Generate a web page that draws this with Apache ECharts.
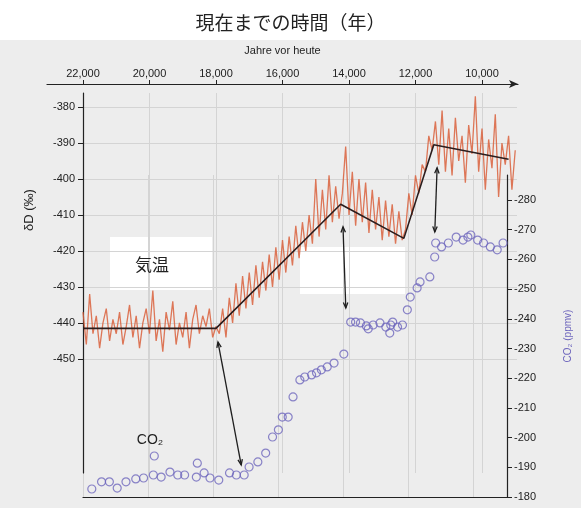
<!DOCTYPE html>
<html>
<head>
<meta charset="utf-8">
<script src="https://cdn.jsdelivr.net/npm/echarts@6/dist/echarts.min.js"></script>
<style>
  html, body { margin: 0; padding: 0; background: #ffffff; }
  #chart { width: 581px; height: 508px; }
</style>
</head>
<body>
<div id="chart"></div>
<script>
// Years before present for the deuterium record (100-year steps)
const dAges = [
  22000, 21900, 21800, 21700, 21600, 21500, 21400, 21300, 21200, 21100,
  21000, 20900, 20800, 20700, 20600, 20500, 20400, 20300, 20200, 20100,
  20000, 19900, 19800, 19700, 19600, 19500, 19400, 19300, 19200, 19100,
  19000, 18900, 18800, 18700, 18600, 18500, 18400, 18300, 18200, 18100,
  18000, 17900, 17800, 17700, 17600, 17500, 17400, 17300, 17200, 17100,
  17000, 16900, 16800, 16700, 16600, 16500, 16400, 16300, 16200, 16100,
  16000, 15900, 15800, 15700, 15600, 15500, 15400, 15300, 15200, 15100,
  15000, 14900, 14800, 14700, 14600, 14500, 14400, 14300, 14200, 14100,
  14000, 13900, 13800, 13700, 13600, 13500, 13400, 13300, 13200, 13100,
  13000, 12900, 12800, 12700, 12600, 12500, 12400, 12300, 12200, 12100,
  12000, 11900, 11800, 11700, 11600, 11500, 11400, 11300, 11200, 11100,
  11000, 10900, 10800, 10700, 10600, 10500, 10400, 10300, 10200, 10100,
  10000, 9900, 9800, 9700, 9600, 9500, 9400, 9300, 9200, 9100,
  9000
];
// δD (‰) values of the ice core
const dValues = [
  -437, -446, -432, -443, -438, -447, -440, -436, -445, -439,
  -443, -437, -446, -441, -435, -444, -438, -447, -440, -436,
  -443, -431, -445, -439, -448, -437, -442, -434, -446, -440,
  -444, -437, -447, -439, -435, -443, -438, -441, -436, -444,
  -441, -443, -436, -444, -433, -440, -429, -438, -427, -436,
  -426, -435, -424, -433, -423, -431, -421, -430, -419, -428,
  -417, -426, -416, -424, -413, -422, -412, -420, -410, -418,
  -400, -416, -403, -414, -399, -412, -402, -411, -404, -391,
  -410, -398, -413, -400, -412, -401, -415, -403, -414, -405,
  -417, -406, -416, -407, -418, -409, -417, -414, -404, -410,
  -399, -404, -396, -398, -388, -392, -384, -396, -381, -398,
  -386, -399, -383, -395, -388, -401, -385, -393, -377, -398,
  -386, -403, -389, -397, -382, -405, -390, -396, -388, -403,
  -392
];

// Piecewise trend of δD
const trendAges = [22000, 18000, 14250, 12350, 11450, 9200];
const trendValues = [-441.5, -441.5, -407, -416.5, -390.5, -394.5];

// CO2 measurements
const co2Ages = [
  21729, 21429, 21188, 20947, 20677, 20376, 20135, 19835, 19805, 19594,
  19323, 19083, 18872, 18481, 18511, 18271, 18090, 17820, 17489, 17278,
  17038, 16887, 16617, 16376, 16165, 15985, 15865, 15684, 15534, 15323,
  15173, 14962, 14812, 14662, 14481, 14271, 13970, 13759, 13609, 13459,
  13278, 13218, 13068, 12857, 12677, 12556, 12526, 12466, 12316, 12165,
  12015, 11925, 11714, 11624, 11323, 11173, 11143, 10962, 10752, 10511,
  10301, 10150, 10060, 9850, 9669, 9459, 9248, 9068
];
const co2Values = [
  182.7, 185.1, 185.1, 183.0, 185.1, 186.1, 186.4, 187.4, 193.8, 186.7,
  188.4, 187.4, 187.4, 191.4, 186.7, 188.1, 186.4, 185.7, 188.1, 187.4,
  187.4, 190.1, 191.8, 194.8, 200.2, 202.6, 206.9, 206.9, 213.7, 219.4,
  220.4, 221.1, 221.8, 222.8, 223.8, 225.1, 228.1, 238.9, 238.9, 238.6,
  237.6, 236.6, 237.9, 238.6, 237.2, 235.2, 237.9, 238.9, 237.2, 237.9,
  243.0, 247.3, 250.4, 252.4, 254.1, 260.8, 265.5, 264.2, 265.5, 267.5,
  266.5, 267.5, 268.2, 266.5, 265.5, 264.2, 263.2, 265.5
];

// Tick labels
const yearTicks = [22000, 20000, 18000, 16000, 14000, 12000, 10000];
const dTicks = [-450, -440, -430, -420, -410, -400, -390, -380];
const co2Ticks = [180, 190, 200, 210, 220, 230, 240, 250, 260, 270, 280];

// Lead/lag arrows: from a point on the δD curve to a point in the CO2 record
const arrowFrom = [[17940, -445.3], [14180, -413.3], [11350, -396.9]];
const arrowTo = [[17130, 190.8], [13910, 243.6], [11170, 269.2]];

const LATIN = '"Liberation Sans", Arial, sans-serif';
const CJK = '"Noto Sans CJK JP", "Noto Sans", sans-serif';

const pairs = (xs, ys) => xs.map((x, i) => [x, ys[i]]);
const fmtYear = v => String(v).replace(/(\d+)(\d{3})$/, '$1,$2');

const chart = echarts.init(document.getElementById('chart'));

const bgGraphics = [
  { type: 'rect', z: -10, silent: true, shape: { x: 0, y: 40, width: 581, height: 468 }, style: { fill: '#ededed' } },
  { type: 'rect', z: -9, silent: true, shape: { x: 110, y: 237, width: 102, height: 53 }, style: { fill: '#ffffff' } },
  { type: 'rect', z: -9, silent: true, shape: { x: 300, y: 247, width: 105, height: 47 }, style: { fill: '#ffffff' } },
  { type: 'text', z: 20, x: 29, y: 210, rotation: Math.PI / 2, style: { x: 0, y: 0, text: 'δD (‰)', font: '13px ' + LATIN, fill: '#222', align: 'center', verticalAlign: 'middle' } },
  { type: 'text', z: 20, style: { x: 152, y: 265, text: '気温', font: '17px ' + CJK, fill: '#222', align: 'center', verticalAlign: 'middle' } },
  { type: 'text', z: 20, style: { x: 150, y: 440, text: 'CO₂', font: '14px ' + LATIN, fill: '#222', align: 'center', verticalAlign: 'middle' } }
];

const option = {
  backgroundColor: '#ffffff',
  animation: false,
  title: {
    text: '現在までの時間（年）',
    left: 'center',
    top: 8,
    textStyle: { fontFamily: CJK, fontSize: 19, fontWeight: 'normal', color: '#222' }
  },
  grid: [
    { left: 83, right: 64, top: 93, bottom: 35 },
    { left: 83, right: 64, top: 175, bottom: 11 },
    { left: 47, right: 63, top: 84, height: 10 }
  ],
  xAxis: [
    {
      gridIndex: 0, type: 'value', inverse: true, min: 8947, max: 22000,
      axisLine: { show: false },
      axisTick: { show: false, customValues: yearTicks },
      axisLabel: { show: false, customValues: yearTicks },
      splitLine: { show: true, lineStyle: { color: '#d4d4d4', width: 1 } }
    },
    {
      gridIndex: 1, type: 'value', inverse: true, min: 8947, max: 22000, position: 'bottom',
      axisLine: { show: true, onZero: false, lineStyle: { color: '#222', width: 1.2 } },
      axisTick: { show: false, customValues: yearTicks },
      axisLabel: { show: false, customValues: yearTicks },
      splitLine: { show: true, lineStyle: { color: '#d4d4d4', width: 1 } }
    },
    {
      gridIndex: 2, type: 'value', inverse: true, min: 8917, max: 23083, position: 'top',
      axisLine: { show: true, onZero: false, symbol: ['none', 'arrow'], symbolSize: [6, 9], lineStyle: { color: '#222', width: 1.2 } },
      axisTick: { show: true, length: 4, customValues: yearTicks, lineStyle: { color: '#222' } },
      axisLabel: { customValues: yearTicks, formatter: fmtYear, margin: 5, fontFamily: LATIN, fontSize: 11, color: '#222' },
      splitLine: { show: false },
      name: 'Jahre vor heute', nameLocation: 'middle', nameGap: 28,
      nameTextStyle: { fontFamily: LATIN, fontSize: 11, color: '#222' }
    }
  ],
  yAxis: [
    {
      gridIndex: 0, type: 'value', min: -481.7, max: -376.1, position: 'left',
      axisLine: { show: true, onZero: false, lineStyle: { color: '#222', width: 1.2 } },
      axisTick: { show: true, length: 5, customValues: dTicks, lineStyle: { color: '#222' } },
      axisLabel: { customValues: dTicks, margin: 8, fontFamily: LATIN, fontSize: 11, color: '#222' },
      splitLine: { show: true, lineStyle: { color: '#d4d4d4', width: 1 } }
    },
    {
      gridIndex: 1, type: 'value', min: 180, max: 288.4, position: 'right',
      axisLine: { show: true, onZero: false, lineStyle: { color: '#222', width: 1.2 } },
      axisTick: { show: true, length: 5, customValues: co2Ticks, lineStyle: { color: '#222' } },
      axisLabel: { customValues: co2Ticks, formatter: v => '-' + v, margin: 7, fontFamily: LATIN, fontSize: 11, color: '#222' },
      splitLine: { show: false },
      name: 'CO₂ (ppmv)', nameLocation: 'middle', nameRotate: 90, nameGap: 56,
      nameTextStyle: { fontFamily: LATIN, fontSize: 10, color: '#6e66bd' }
    },
    { gridIndex: 2, type: 'value', show: false }
  ],
  series: [
    {
      name: 'δD', type: 'line', xAxisIndex: 0, yAxisIndex: 0,
      data: pairs(dAges, dValues), showSymbol: false, z: 3,
      lineStyle: { color: '#d9603c', width: 1.3, opacity: 0.85 }
    },
    {
      name: 'trend', type: 'line', xAxisIndex: 0, yAxisIndex: 0,
      data: pairs(trendAges, trendValues), showSymbol: false, z: 4,
      lineStyle: { color: '#2b1d1d', width: 1.6 }
    },
    {
      name: 'CO₂', type: 'scatter', xAxisIndex: 1, yAxisIndex: 1,
      data: pairs(co2Ages, co2Values), symbol: 'circle', symbolSize: 8, z: 5,
      itemStyle: { color: 'rgba(255,255,255,0)', borderColor: '#6e66bd', borderWidth: 1.2 }
    }
  ],
  graphic: bgGraphics
};

chart.setOption(option);

// Double-headed arrows placed through the axes' own scales
function arrowHead(tip, from, size) {
  const ang = Math.atan2(tip[1] - from[1], tip[0] - from[0]);
  const a1 = ang + Math.PI - 0.38, a2 = ang + Math.PI + 0.38;
  return [
    [tip[0] + size * Math.cos(a1), tip[1] + size * Math.sin(a1)],
    tip,
    [tip[0] + size * Math.cos(a2), tip[1] + size * Math.sin(a2)]
  ];
}
const arrowGraphics = [];
arrowFrom.forEach((f, i) => {
  const p1 = chart.convertToPixel({ xAxisIndex: 0, yAxisIndex: 0 }, f);
  const p2 = chart.convertToPixel({ xAxisIndex: 1, yAxisIndex: 1 }, arrowTo[i]);
  const st = { stroke: '#1e1e1e', lineWidth: 1.3, fill: 'none' };
  arrowGraphics.push({ type: 'line', z: 30, shape: { x1: p1[0], y1: p1[1], x2: p2[0], y2: p2[1] }, style: st });
  arrowGraphics.push({ type: 'polyline', z: 30, shape: { points: arrowHead(p1, p2, 6) }, style: st });
  arrowGraphics.push({ type: 'polyline', z: 30, shape: { points: arrowHead(p2, p1, 6) }, style: st });
});
chart.setOption({ graphic: bgGraphics.concat(arrowGraphics) });
</script>
</body>
</html>
